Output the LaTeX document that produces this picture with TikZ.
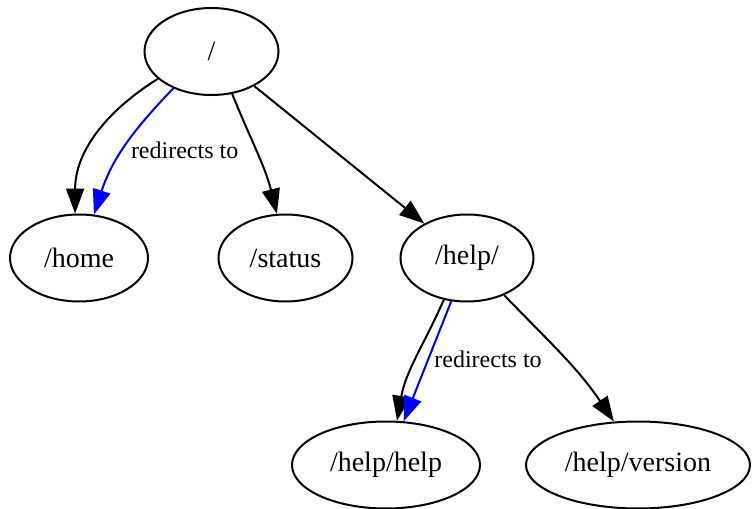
\documentclass[tikz,border=0pt]{standalone}
\usepackage{fontspec}
\setmainfont{Liberation Serif}
\usetikzlibrary{shapes.geometric,arrows.meta}

\begin{document}
\begin{tikzpicture}[x=0.5pt,y=-0.5pt,
    page/.style={ellipse,draw,line width=1pt,inner sep=0pt,minimum height=43.5pt,
      font=\fontsize{14}{16}\selectfont},
    link/.style={line width=1pt,-{Triangle[length=12.5pt,width=9pt]}},
    redirect/.style={link,blue},
    lbl/.style={font=\fontsize{12}{14}\selectfont,text=black,inner sep=0pt,anchor=west}]
  \useasboundingbox (0,0) rectangle (752,509);

  % pages
  \node[page,minimum width=67pt] (root) at (211.5,51.5) {/};
  \node[page,minimum width=69pt] (home) at (79,258) {/home};
  \node[page,minimum width=67pt] (status) at (285.5,258) {/status};
  \node[page,minimum width=66.5pt] (help) at (467,258) {/help/};
  \node[page,minimum width=94pt] (helphelp) at (386,465) {/help/help};
  \node[page,minimum width=112pt] (version) at (638,465) {/help/version};

  % links
  \draw[link] (root.207) to[out=212,in=90] (home.95);
  \draw[redirect] (root.224) to[out=226,in=72]
    node[lbl,pos=0.53,xshift=3.5pt] {redirects to} (home.71);
  \draw[link] (root.-64) to[out=-68,in=104] (status.101);
  \draw[link] (root) -- (help);

  \draw[link] (help.241) to[out=246,in=80] (helphelp.76);
  \draw[redirect] (help.250) -- node[lbl,pos=0.48,xshift=2.5pt] {redirects to} (helphelp.68);
  \draw[link] (help.-45) to[out=-46,in=124] (version.119);
\end{tikzpicture}
\end{document}
